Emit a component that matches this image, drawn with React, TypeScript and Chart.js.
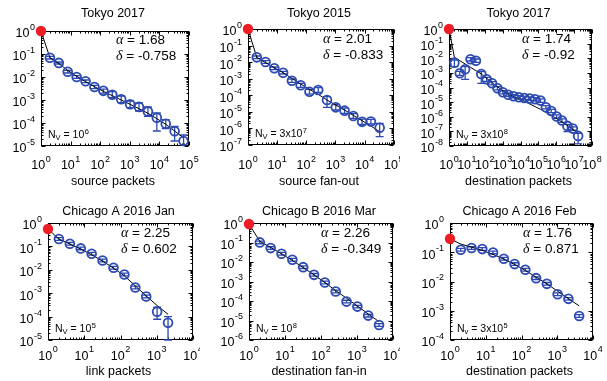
import React, { useEffect, useRef } from "react";
import { Chart, registerables } from "chart.js";
Chart.register(...registerables);

const BLUE = "rgb(44, 74, 178)";
const RED = "#ee1c24";
const SANS = '"Liberation Sans", Arial, Helvetica, sans-serif';
const SERIF = '"Liberation Serif", "Times New Roman", serif';

// ---------------- Panel 1: Tokyo 2017 / source packets
const p1Title = "Tokyo 2017";
const p1XTitle = "source packets";
const p1X = [2, 4, 8, 16, 32, 64, 128, 256, 512, 1024, 2048, 4096, 8192, 16384, 32768, 65536];
const p1Y = [0.069, 0.041, 0.017, 0.01, 0.0065, 0.0037, 0.0025, 0.0017, 0.00107, 0.00065, 0.0005, 0.00032, 0.00017, 0.000093, 0.000044, 0.0000165];
const p1Hi = [0.0792, 0.0449, 0.0195, 0.0114, 0.00741, 0.00434, 0.003, 0.0023, 0.00149, 0.000905, 0.000741, 0.000497, 0.000272, 0.00014, 0.0000716, 0.0000301];
const p1Lo = [0.0607, 0.0367, 0.0149, 0.00875, 0.00568, 0.00311, 0.00201, 0.00126, 0.000766, 0.000464, 0.000333, 0.000195, 0.0000449, 0.0000568, 0.0000165, 0.0000091];
const p1FitX = [1, 2, 4, 8, 16, 32, 64, 128, 256, 512, 1024, 2048, 4096, 8192, 16384, 32768, 65536];
const p1FitY = [1, 0.0693, 0.038, 0.0195, 0.0107, 0.00627, 0.0038, 0.00238, 0.00154, 0.001, 0.000648, 0.00042, 0.000263, 0.000154, 0.0000875, 0.0000449, 0.0000223];
const p1Peak = 1;
const p1Alpha = "1.68";
const p1Delta = "-0.758";
const p1Nv = { sub: "V", mant: "", exp: "6" };
const p1XExp = [0, 5];
const p1YExp = [-5, 0];

// ---------------- Panel 2: Tokyo 2015 / source fan-out
const p2Title = "Tokyo 2015";
const p2XTitle = "source fan-out";
const p2X = [2, 4, 8, 16, 32, 64, 128, 256, 512, 1024, 2048, 4096, 8192, 16384, 32768];
const p2Y = [0.0195, 0.0102, 0.0043, 0.0023, 0.00076, 0.0004, 0.000165, 0.00021, 0.000052, 0.0000187, 0.0000118, 0.0000056, 0.0000025, 0.0000026, 0.0000011];
const p2Hi = [0.0234, 0.0123, 0.00508, 0.00279, 0.000959, 0.000525, 0.000228, 0.000288, 0.0000822, 0.0000271, 0.000017, 0.00000775, 0.00000369, 0.00000352, 0.00000202];
const p2Lo = [0.0162, 0.00847, 0.00351, 0.00192, 0.000604, 0.000301, 0.000119, 0.00015, 0.0000187, 0.0000129, 0.00000811, 0.00000405, 0.00000176, 0.00000185, 0.000000317];
const p2FitX = [1, 2, 4, 8, 16, 32, 64, 128, 256, 512, 1024, 2048, 4096, 8192, 16384, 32768];
const p2FitY = [1, 0.0195, 0.00929, 0.00463, 0.00231, 0.00105, 0.000479, 0.000228, 0.000114, 0.0000518, 0.0000258, 0.0000129, 0.00000615, 0.00000293, 0.0000014, 0.000000635];
const p2Peak = 1;
const p2Alpha = "2.01";
const p2Delta = "-0.833";
const p2Nv = { sub: "V", mant: "3x", exp: "7" };
const p2XExp = [0, 5];
const p2YExp = [-7, 0];

// ---------------- Panel 3: Tokyo 2017 / destination packets
const p3Title = "Tokyo 2017";
const p3XTitle = "destination packets";
const p3X = [2, 4, 8, 16, 32, 64, 128, 256, 512, 1024, 2048, 4096, 8192, 16384, 32768, 65536, 131072, 262144, 524288, 1048576, 2097152, 4194304, 8388608, 16777216];
const p3Y = [5.0e-3, 9.4e-4, 1.75e-3, 8.5e-3, 6.8e-3, 8.4e-4, 3.6e-4, 1.94e-4, 8.9e-5, 4.7e-5, 3.2e-5, 2.5e-5, 2.14e-5, 1.93e-5, 1.74e-5, 1.56e-5, 1.27e-5, 4.4e-6, 2.5e-6, 1.03e-6, 5.5e-7, 2.36e-7, 1.55e-7, 4.9e-8];
const p3Hi = [7.62e-3, 1.28e-3, 2.67e-3, 0.011, 8.91e-3, 1.21e-3, 4.98e-4, 2.52e-4, 1.15e-4, 6.11e-5, 4.23e-5, 3.26e-5, 2.78e-5, 2.5e-5, 2.25e-5, 2.03e-5, 1.65e-5, 5.77e-6, 3.24e-6, 1.33e-6, 7.08e-7, 3.05e-7, 2.01e-7, 7.41e-8];
const p3Lo = [2.67e-3, 6.82e-4, 3.63e-4, 6.5e-3, 5.27e-3, 1.94e-4, 2.65e-4, 1.49e-4, 6.78e-5, 3.61e-5, 2.51e-5, 1.93e-5, 1.65e-5, 1.48e-5, 1.33e-5, 1.2e-5, 9.75e-6, 3.41e-6, 1.91e-6, 7.85e-7, 4.19e-7, 9.63e-8, 1.19e-7, 1.38e-8];
const p3FitX = [1, 2, 4, 8, 16, 32, 64, 128, 256, 512, 1024, 2048, 4096, 8192, 16384, 32768, 65536, 131072, 262144, 524288, 1048576, 2097152, 4194304, 8388608, 16777216];
const p3FitY = [1, 1.16e-2, 6.86e-3, 4.06e-3, 2.4e-3, 1.42e-3, 8.41e-4, 4.25e-4, 2.15e-4, 1.15e-4, 6.11e-5, 3.61e-5, 2.38e-5, 1.65e-5, 1.14e-5, 7.5e-6, 4.92e-6, 3.24e-6, 2.02e-6, 1.26e-6, 7.45e-7, 4.41e-7, 2.48e-7, 1.39e-7, 7.41e-8];
const p3Peak = 1;
const p3Alpha = "1.74";
const p3Delta = "-0.92";
const p3Nv = { sub: "V", mant: "3x", exp: "8" };
const p3XExp = [0, 8];
const p3YExp = [-8, 0];

// ---------------- Panel 4: Chicago A 2016 Jan / link packets
const p4Title = "Chicago A 2016 Jan";
const p4XTitle = "link packets";
const p4X = [2, 4, 8, 16, 32, 64, 128, 256, 512, 1024, 2048];
const p4Y = [0.206, 0.13, 0.082, 0.0485, 0.025, 0.0122, 0.0063, 0.00175, 0.00072, 0.000163, 0.000055];
const p4Hi = [0.235, 0.148, 0.0936, 0.0553, 0.0287, 0.0139, 0.0072, 0.002, 0.00082, 0.000251, 0.0001];
const p4Lo = [0.181, 0.114, 0.072, 0.0425, 0.022, 0.0107, 0.00553, 0.00153, 0.000631, 0.0000769, 0.00001];
const p4FitX = [1, 2, 4, 8, 16, 32, 64, 128, 256, 512, 1024, 2048];
const p4FitY = [0.553, 0.206, 0.126, 0.0769, 0.0439, 0.0235, 0.0118, 0.00553, 0.00206, 0.000769, 0.000296, 0.000126];
const p4Peak = 0.553;
const p4Alpha = "2.25";
const p4Delta = "0.602";
const p4Nv = { sub: "V", mant: "", exp: "5" };
const p4XExp = [0, 4];
const p4YExp = [-5, 0];

// ---------------- Panel 5: Chicago B 2016 Mar / destination fan-in
const p5Title = "Chicago B 2016 Mar";
const p5XTitle = "destination fan-in";
const p5X = [2, 4, 8, 16, 32, 64, 128, 256, 512, 1024, 2048, 4096];
const p5Y = [0.101, 0.0517, 0.0264, 0.013, 0.00544, 0.00219, 0.000885, 0.000305, 0.000093, 0.0000515, 0.0000178, 0.0000059];
const p5Hi = [0.119, 0.0605, 0.031, 0.0152, 0.00637, 0.00257, 0.00104, 0.000357, 0.000109, 0.0000603, 0.0000207, 0.00000687];
const p5Lo = [0.0864, 0.0442, 0.0226, 0.0111, 0.00465, 0.00187, 0.000755, 0.00026, 0.0000796, 0.000044, 0.0000151, 0.00000501];
const p5FitX = [1, 2, 4, 8, 16, 32, 64, 128, 256, 512, 1024, 2048, 4096];
const p5FitY = [0.888, 0.114, 0.056, 0.0264, 0.012, 0.00523, 0.00219, 0.000885, 0.000343, 0.000138, 0.0000557, 0.0000216, 0.00000871];
const p5Peak = 0.888;
const p5Alpha = "2.26";
const p5Delta = "-0.349";
const p5Nv = { sub: "V", mant: "", exp: "8" };
const p5XExp = [0, 4];
const p5YExp = [-6, 0];

// ---------------- Panel 6: Chicago A 2016 Feb / destination packets
const p6Title = "Chicago A 2016 Feb";
const p6XTitle = "destination packets";
const p6X = [2, 4, 8, 16, 32, 64, 128, 256, 512, 1024, 2048, 4096];
const p6Y = [0.122, 0.139, 0.128, 0.0986, 0.0599, 0.0393, 0.0251, 0.013, 0.0083, 0.00368, 0.00255, 0.000665];
const p6Hi = [0.135, 0.154, 0.143, 0.11, 0.0665, 0.0437, 0.0279, 0.0145, 0.00924, 0.00409, 0.00283, 0.000739];
const p6Lo = [0.11, 0.125, 0.116, 0.0889, 0.0539, 0.0354, 0.0226, 0.0117, 0.00749, 0.00331, 0.00229, 0.000598];
const p6FitX = [1, 2, 4, 8, 16, 32, 64, 128, 256, 512, 1024, 2048, 4096];
const p6FitY = [0.29, 0.19, 0.15, 0.116, 0.0843, 0.0583, 0.0383, 0.0238, 0.0141, 0.0083, 0.00466, 0.00261, 0.00147];
const p6Peak = 0.29;
const p6Alpha = "1.76";
const p6Delta = "0.871";
const p6Nv = { sub: "v", mant: "3x", exp: "5" };
const p6XExp = [0, 4];
const p6YExp = [-4, 0];

const SPECS = [
  { title: p1Title, xTitle: p1XTitle, px: p1X, py: p1Y, hi: p1Hi, lo: p1Lo, fx: p1FitX, fy: p1FitY, peak: p1Peak, alpha: p1Alpha, delta: p1Delta, nv: p1Nv, xExp: p1XExp, yExp: p1YExp },
  { title: p2Title, xTitle: p2XTitle, px: p2X, py: p2Y, hi: p2Hi, lo: p2Lo, fx: p2FitX, fy: p2FitY, peak: p2Peak, alpha: p2Alpha, delta: p2Delta, nv: p2Nv, xExp: p2XExp, yExp: p2YExp },
  { title: p3Title, xTitle: p3XTitle, px: p3X, py: p3Y, hi: p3Hi, lo: p3Lo, fx: p3FitX, fy: p3FitY, peak: p3Peak, alpha: p3Alpha, delta: p3Delta, nv: p3Nv, xExp: p3XExp, yExp: p3YExp },
  { title: p4Title, xTitle: p4XTitle, px: p4X, py: p4Y, hi: p4Hi, lo: p4Lo, fx: p4FitX, fy: p4FitY, peak: p4Peak, alpha: p4Alpha, delta: p4Delta, nv: p4Nv, xExp: p4XExp, yExp: p4YExp },
  { title: p5Title, xTitle: p5XTitle, px: p5X, py: p5Y, hi: p5Hi, lo: p5Lo, fx: p5FitX, fy: p5FitY, peak: p5Peak, alpha: p5Alpha, delta: p5Delta, nv: p5Nv, xExp: p5XExp, yExp: p5YExp },
  { title: p6Title, xTitle: p6XTitle, px: p6X, py: p6Y, hi: p6Hi, lo: p6Lo, fx: p6FitX, fy: p6FitY, peak: p6Peak, alpha: p6Alpha, delta: p6Delta, nv: p6Nv, xExp: p6XExp, yExp: p6YExp },
];

// Layout (positions / sizes only)
const LAYOUTS = [
  { left: 0, top: 0, w: 200, h: 190, pad: { left: 41, top: 31, right: 11, bottom: 44 }, titleY: 14, tickY: 166, xTitleY: 181.5, annDx: 75, annDy: 9.5 },
  { left: 200, top: 0, w: 200, h: 190, pad: { left: 48, top: 29, right: 6, bottom: 45 }, titleY: 14, tickY: 166, xTitleY: 181.5, annDx: 75, annDy: 10 },
  { left: 400, top: 0, w: 207, h: 190, pad: { left: 49, top: 29, right: 15, bottom: 44 }, titleY: 14, tickY: 166, xTitleY: 181.5, annDx: 73, annDy: 10 },
  { left: 0, top: 190, w: 200, h: 191, pad: { left: 48, top: 33, right: 7, bottom: 41 }, titleY: 22, tickY: 166.5, xTitleY: 182, annDx: 73, annDy: 10 },
  { left: 200, top: 190, w: 200, h: 191, pad: { left: 49, top: 33, right: 7, bottom: 41 }, titleY: 22, tickY: 166.5, xTitleY: 182, annDx: 72, annDy: 10 },
  { left: 400, top: 190, w: 207, h: 191, pad: { left: 50, top: 33, right: 14, bottom: 41 }, titleY: 22, tickY: 166.5, xTitleY: 182, annDx: 73, annDy: 10 },
];

const BASE_PX = 12.5;
const SUP_PX = 9;

function drawPow(ctx: CanvasRenderingContext2D, exp: string, x: number, y: number, align: string) {
  ctx.font = `${BASE_PX}px ${SANS}`;
  const wb = ctx.measureText("10").width;
  ctx.font = `${SUP_PX}px ${SANS}`;
  const we = ctx.measureText(exp).width;
  const total = wb + 0.5 + we;
  const x0 = align === "right" ? x - total : x - total / 2;
  ctx.textAlign = "left";
  ctx.textBaseline = "middle";
  ctx.font = `${BASE_PX}px ${SANS}`;
  ctx.fillText("10", x0, y);
  ctx.font = `${SUP_PX}px ${SANS}`;
  ctx.fillText(exp, x0 + wb + 0.5, y - 6.5);
}

function Panel({ spec, lay }: any) {
  const ref = useRef<HTMLCanvasElement | null>(null);
  useEffect(() => {
    const canvas = ref.current;
    if (!canvas) return;
    const deco = {
      id: "deco",
      beforeDatasetsDraw(chart: any) {
        const ctx = chart.ctx as CanvasRenderingContext2D;
        const a = chart.chartArea;
        const xs = chart.scales.x;
        const ys = chart.scales.y;
        ctx.save();
        ctx.strokeStyle = "#000";
        ctx.lineWidth = 1;
        const L = Math.round(a.left) + 0.5, T = Math.round(a.top) + 0.5;
        const R = Math.round(a.right) - 0.5, B = Math.round(a.bottom) - 0.5;
        ctx.strokeRect(L, T, R - L, B - T);
        ctx.beginPath();
        for (let e = spec.xExp[0]; e <= spec.xExp[1]; e++) {
          for (let k = 1; k <= 9; k++) {
            const v = k * Math.pow(10, e);
            if (v > Math.pow(10, spec.xExp[1]) * 1.0001) break;
            const px = Math.round(xs.getPixelForValue(v)) + 0.5;
            const len = k === 1 ? 4 : 2;
            ctx.moveTo(px, B); ctx.lineTo(px, B - len);
            ctx.moveTo(px, T); ctx.lineTo(px, T + len);
          }
        }
        for (let e = spec.yExp[0]; e <= spec.yExp[1]; e++) {
          for (let k = 1; k <= 9; k++) {
            const v = k * Math.pow(10, e);
            if (v > Math.pow(10, spec.yExp[1]) * 1.0001) break;
            const py = Math.round(ys.getPixelForValue(v)) + 0.5;
            const len = k === 1 ? 4 : 2;
            ctx.moveTo(L, py); ctx.lineTo(L + len, py);
            ctx.moveTo(R, py); ctx.lineTo(R - len, py);
          }
        }
        ctx.stroke();
        ctx.strokeStyle = BLUE;
        ctx.lineWidth = 1.3;
        ctx.beginPath();
        for (let i = 0; i < spec.px.length; i++) {
          const x = xs.getPixelForValue(spec.px[i]);
          let yh = ys.getPixelForValue(spec.hi[i]);
          let yl = ys.getPixelForValue(spec.lo[i]);
          const capH = yh >= a.top;
          const capL = yl <= a.bottom;
          yh = Math.max(yh, a.top);
          yl = Math.min(yl, a.bottom);
          ctx.moveTo(x, yh); ctx.lineTo(x, yl);
          if (capH) { ctx.moveTo(x - 4, yh); ctx.lineTo(x + 4, yh); }
          if (capL) { ctx.moveTo(x - 4, yl); ctx.lineTo(x + 4, yl); }
        }
        ctx.stroke();
        ctx.restore();
      },
      afterDraw(chart: any) {
        const ctx = chart.ctx as CanvasRenderingContext2D;
        const a = chart.chartArea;
        const xs = chart.scales.x;
        const ys = chart.scales.y;
        ctx.save();
        ctx.fillStyle = "#000";
        for (let e = spec.yExp[0]; e <= spec.yExp[1]; e++) {
          const py = ys.getPixelForValue(Math.pow(10, e));
          drawPow(ctx, String(e), a.left - 6, py + 3, "right");
        }
        for (let e = spec.xExp[0]; e <= spec.xExp[1]; e++) {
          const px = xs.getPixelForValue(Math.pow(10, e));
          drawPow(ctx, String(e), px, lay.tickY, "center");
        }
        const cx = (a.left + a.right) / 2 - 2;
        ctx.textBaseline = "middle";
        ctx.textAlign = "center";
        ctx.font = `12.5px ${SANS}`;
        ctx.fillText(spec.title, cx, lay.titleY);
        ctx.fillText(spec.xTitle, cx, lay.xTitleY);
        ctx.textAlign = "left";
        const ax = a.left + lay.annDx;
        const drawAnn = (g: string, val: string, y: number) => {
          ctx.font = `italic 14px ${SERIF}`;
          ctx.fillText(g, ax, y);
          const w = ctx.measureText(g).width;
          ctx.font = `13.5px ${SANS}`;
          ctx.fillText(" = " + val, ax + w, y);
        };
        drawAnn("\u03b1", spec.alpha, a.top + lay.annDy);
        drawAnn("\u03b4", spec.delta, a.top + lay.annDy + 16);
        const ny = a.bottom - 10.5;
        let nx = a.left + 7;
        ctx.font = `10.5px ${SANS}`;
        ctx.fillText("N", nx, ny);
        nx += ctx.measureText("N").width;
        ctx.font = `7.5px ${SANS}`;
        ctx.fillText(spec.nv.sub, nx, ny + 2.5);
        nx += ctx.measureText(spec.nv.sub).width;
        ctx.font = `10.5px ${SANS}`;
        const mid = " = " + spec.nv.mant + "10";
        ctx.fillText(mid, nx, ny);
        nx += ctx.measureText(mid).width;
        ctx.font = `7.5px ${SANS}`;
        ctx.fillText(spec.nv.exp, nx + 0.5, ny - 4);
        ctx.restore();
      },
    };
    const chart = new Chart(canvas, {
      type: "scatter",
      data: {
        datasets: [
          {
            label: "x = 1",
            data: [{ x: 1, y: spec.peak }],
            pointRadius: 5.2,
            pointBackgroundColor: RED,
            pointBorderColor: RED,
            pointBorderWidth: 0,
            showLine: false,
            clip: false,
          },
          {
            label: "binned data",
            data: spec.px.map((x: number, i: number) => ({ x, y: spec.py[i] })),
            pointRadius: 4.4,
            pointBorderColor: BLUE,
            pointBackgroundColor: "rgba(0,0,0,0)",
            pointBorderWidth: 1.8,
            showLine: false,
            clip: false,
          },
          {
            label: "fit",
            data: spec.fx.map((x: number, i: number) => ({ x, y: spec.fy[i] })),
            showLine: true,
            borderColor: "#000",
            borderWidth: 1,
            pointRadius: 0,
            tension: 0,
            clip: false,
          },
        ],
      } as any,
      options: {
        animation: false,
        responsive: false,
        maintainAspectRatio: false,
        devicePixelRatio: 1,
        events: [],
        layout: { padding: lay.pad },
        scales: {
          x: { type: "logarithmic", min: Math.pow(10, spec.xExp[0]), max: Math.pow(10, spec.xExp[1]), display: false },
          y: { type: "logarithmic", min: Math.pow(10, spec.yExp[0]), max: Math.pow(10, spec.yExp[1]), display: false },
        },
        plugins: { legend: { display: false }, tooltip: { enabled: false }, title: { display: false } },
      } as any,
      plugins: [deco],
    });
    return () => chart.destroy();
  }, []);
  return (
    <div style={{ position: "absolute", left: lay.left, top: lay.top, width: lay.w, height: lay.h }}>
      <canvas ref={ref} width={lay.w} height={lay.h} style={{ display: "block", width: lay.w, height: lay.h }} />
    </div>
  );
}

export default function App() {
  return (
    <div style={{ position: "absolute", left: 0, top: 0, width: 607, height: 381, background: "#fff", overflow: "hidden" }}>
      {SPECS.map((s, i) => (
        <Panel key={i} spec={s} lay={LAYOUTS[i]} />
      ))}
    </div>
  );
}
